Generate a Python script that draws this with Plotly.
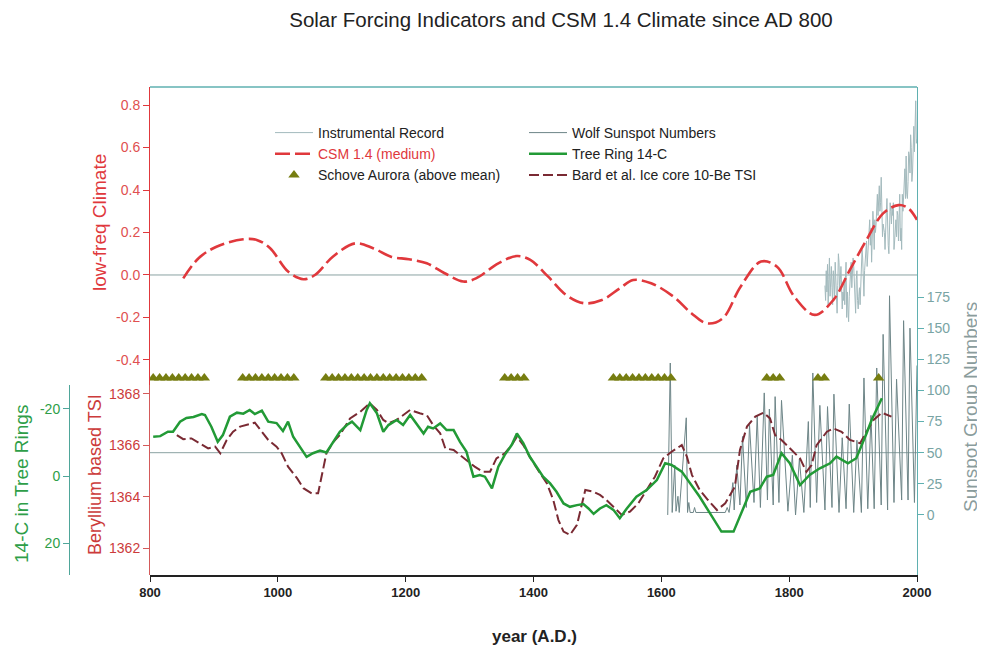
import plotly.graph_objects as go

# ---------------- data ----------------
csm_years = [852, 876, 904, 946, 967, 988, 1016, 1040, 1058, 1086, 1121, 1149, 1177, 1205, 1233,
             1261, 1290, 1310, 1345, 1374, 1395, 1423, 1451, 1479, 1507, 1535, 1556, 1584, 1619,
             1647, 1672, 1696, 1724, 1756, 1781, 1808, 1840, 1869, 1895, 1921, 1947, 1971, 1986, 2000]
csm_vals = [-0.016, 0.079, 0.133, 0.168, 0.165, 0.126, 0.016, -0.020, 0.000, 0.086, 0.149, 0.126,
            0.086, 0.074, 0.055, 0.008, -0.031, -0.016, 0.055, 0.089, 0.071, -0.008, -0.094, -0.133,
            -0.118, -0.063, -0.024, -0.039, -0.102, -0.180, -0.228, -0.204, -0.055, 0.063, 0.039,
            -0.102, -0.188, -0.118, 0.024, 0.165, 0.290, 0.329, 0.315, 0.260]

instr_years = list(range(1856, 2001))
instr_vals = [-0.05, -0.12, 0.02, -0.08, 0.05, -0.15, -0.02, 0.08, -0.10, 0.00,
              0.04, -0.06, -0.14, 0.02, -0.04, -0.10, 0.06, -0.02, -0.12, -0.18,
              -0.05, 0.10, 0.06, -0.08, -0.02, 0.04, -0.06, -0.16, -0.08, -0.12,
              -0.04, -0.14, -0.02, 0.06, -0.20, -0.08, -0.16, -0.22, -0.10, -0.04,
              0.02, 0.06, -0.06, 0.00, 0.08, 0.04, -0.06, -0.12, -0.18, -0.02,
              0.02, -0.12, -0.16, -0.10, -0.06, -0.14, -0.04, 0.02, 0.12, 0.08,
              -0.04, -0.10, 0.02, 0.08, 0.10, 0.16, 0.04, 0.10, 0.12, 0.18,
              0.26, 0.14, 0.22, 0.06, 0.28, 0.30, 0.24, 0.12, 0.26, 0.20,
              0.24, 0.34, 0.38, 0.28, 0.36, 0.42, 0.30, 0.34, 0.46, 0.30,
              0.18, 0.24, 0.22, 0.20, 0.12, 0.28, 0.30, 0.36, 0.16, 0.14,
              0.10, 0.30, 0.34, 0.30, 0.24, 0.32, 0.28, 0.34, 0.12, 0.16,
              0.22, 0.26, 0.18, 0.30, 0.28, 0.16, 0.24, 0.38, 0.16, 0.22,
              0.12, 0.38, 0.30, 0.40, 0.44, 0.50, 0.36, 0.56, 0.38, 0.36,
              0.44, 0.58, 0.56, 0.48, 0.66, 0.60, 0.44, 0.48, 0.56, 0.70,
              0.58, 0.74, 0.82, 0.62, 0.64]

aurora_years = [805, 815, 825, 835, 845, 855, 865, 875, 885,
                945, 955, 965, 975, 985, 995, 1005, 1015, 1025,
                1075, 1085, 1095, 1105, 1115, 1125, 1135, 1145, 1155, 1165, 1175, 1185, 1195, 1205, 1215, 1225,
                1355, 1365, 1375, 1385,
                1525, 1535, 1545, 1555, 1565, 1575, 1585, 1595, 1605, 1615,
                1765, 1775, 1785,
                1845, 1855,
                1940]
aurora_level = -0.485

ss_years = [1610, 1614, 1617, 1621, 1623, 1626, 1628, 1639, 1641, 1643, 1645, 1650, 1652, 1654,
            1700, 1703, 1706, 1712, 1714, 1718, 1723, 1727, 1733, 1738, 1745, 1750, 1755, 1761,
            1766, 1769, 1775, 1778, 1784, 1788, 1798, 1805, 1810, 1816, 1823, 1830, 1833, 1837,
            1843, 1848, 1856, 1860, 1867, 1870, 1878, 1883, 1889, 1894, 1901, 1906, 1913, 1917,
            1923, 1928, 1933, 1937, 1944, 1947, 1954, 1957, 1964, 1968, 1976, 1979, 1986, 1989,
            1996, 2000]
ss_vals = [0, 122, 2, 40, 3, 15, 2, 78, 2, 10, 2, 2, 6, 2,
           2, 6, 2, 26, 4, 40, 8, 63, 6, 72, 10, 80, 6, 98,
           12, 85, 8, 95, 10, 92, 3, 48, 0, 45, 2, 75, 6, 114,
           10, 88, 4, 87, 6, 97, 2, 62, 5, 89, 2, 60, 2, 110,
           5, 80, 5, 118, 8, 145, 4, 176, 10, 109, 12, 156, 12, 150,
           10, 120]
ss_ref = 50

bard_years = [842, 852, 865, 878, 891, 902, 910, 920, 930, 941, 951, 964, 975, 985, 998, 1006, 1016,
              1030, 1040, 1053, 1063, 1070, 1076, 1087, 1097, 1113, 1129, 1144, 1155, 1165, 1173,
              1186, 1196, 1207, 1222, 1233, 1243, 1254, 1262, 1275, 1285, 1298, 1308, 1321, 1332,
              1342, 1355, 1366, 1374, 1384, 1394, 1407, 1421, 1431, 1439, 1447, 1457, 1468, 1476,
              1481, 1494, 1504, 1514, 1525, 1538, 1551, 1564, 1577, 1590, 1603, 1616, 1632, 1640,
              1648, 1660, 1673, 1687, 1700, 1715, 1723, 1734, 1747, 1760, 1770, 1778, 1788, 1801,
              1817, 1827, 1835, 1843, 1859, 1869, 1882, 1895, 1911, 1921, 1932, 1945, 1953, 1960]
bard_vals = [1366.40, 1366.24, 1366.27, 1366.08, 1365.88, 1365.95, 1365.69, 1366.21, 1366.53,
             1366.73, 1366.79, 1366.88, 1366.53, 1366.21, 1365.95, 1365.69, 1365.17, 1364.72,
             1364.33, 1364.13, 1364.13, 1365.04, 1365.69, 1366.14, 1366.40, 1367.05, 1367.31,
             1367.64, 1367.38, 1366.99, 1366.86, 1366.99, 1367.18, 1367.38, 1367.25, 1367.18,
             1366.79, 1366.47, 1365.88, 1365.82, 1365.62, 1365.36, 1365.17, 1364.97, 1364.97,
             1365.49, 1365.69, 1366.01, 1366.34, 1366.01, 1365.56, 1365.04, 1364.52, 1363.87,
             1363.09, 1362.64, 1362.51, 1362.90, 1363.74, 1364.26, 1364.19, 1364.07, 1363.87,
             1363.61, 1363.29, 1363.42, 1363.74, 1364.26, 1364.78, 1365.49, 1365.75, 1366.01,
             1365.56, 1364.84, 1364.26, 1363.87, 1363.48, 1363.74, 1364.39, 1365.82, 1366.73,
             1367.12, 1367.27, 1367.05, 1366.40, 1366.21, 1365.88, 1365.49, 1364.97, 1365.23,
             1366.01, 1366.53, 1366.66, 1366.53, 1366.21, 1366.08, 1366.53, 1366.99, 1367.27,
             1367.18, 1367.12]

c14_years = [805, 816, 828, 836, 847, 857, 868, 881, 886, 896, 906, 914, 925, 936, 946, 956, 964,
             975, 985, 998, 1008, 1016, 1024, 1035, 1045, 1055, 1066, 1076, 1087, 1097, 1108, 1116,
             1129, 1139, 1144, 1155, 1165, 1173, 1186, 1196, 1207, 1217, 1228, 1235, 1243, 1254,
             1264, 1275, 1285, 1295, 1306, 1316, 1324, 1335, 1345, 1355, 1366, 1374, 1384, 1394,
             1405, 1415, 1426, 1436, 1447, 1457, 1468, 1478, 1486, 1494, 1504, 1514, 1525, 1535,
             1546, 1561, 1577, 1593, 1606, 1616, 1632, 1645, 1660, 1676, 1694, 1713, 1723, 1739,
             1754, 1765, 1775, 1788, 1801, 1817, 1832, 1848, 1864, 1874, 1892, 1905, 1921, 1929, 1945]
c14_vals = [-11.7, -11.9, -13.2, -13.2, -16.2, -17.3, -17.6, -18.5, -18.2, -14.7, -10.2, -12.2,
            -17.7, -18.9, -18.6, -19.7, -18.5, -19.5, -16.2, -15.8, -13.4, -16.2, -11.7, -8.7,
            -5.7, -6.8, -7.6, -7.0, -10.2, -13.2, -15.2, -16.2, -13.7, -19.7, -21.7, -18.7,
            -13.2, -15.2, -16.7, -15.2, -18.2, -15.7, -12.7, -14.7, -14.2, -15.7, -13.7, -13.7,
            -10.2, -7.3, 0.2, -0.3, 0.2, 3.7, -2.8, -6.3, -9.3, -12.7, -9.8, -5.8,
            -2.8, 0.2, 2.2, 4.7, 8.2, 9.2, 8.7, 8.4, 9.7, 11.3, 9.7, 8.7, 10.1, 12.6,
            9.7, 6.2, 4.2, 1.2, -3.8, -3.3, -1.3, 2.2, 6.2, 11.1, 16.6, 16.6, 12.1, 4.7,
            3.7, 0.2, -0.3, -6.8, -3.8, 2.7, -0.3, -2.3, -3.8, -5.8, -3.8, -5.3, -12.7, -16.7, -23.2]

x_ticks = [800, 1000, 1200, 1400, 1600, 1800, 2000]
climate_ticks = [-0.4, -0.2, 0.0, 0.2, 0.4, 0.6, 0.8]
climate_labels = ["-0.4", "-0.2", "0.0", "0.2", "0.4", "0.6", "0.8"]
tsi_ticks = [1362, 1364, 1366, 1368]
c14_ticks = [-20, 0, 20]
c14_labels = ["-20", "0", "20"]
ss_ticks = [0, 25, 50, 75, 100, 125, 150, 175]

# ---------------- layout geometry ----------------
# the page body has an 8 px margin, so the figure is 8 px smaller and
# every reference pixel position is shifted by 8 px
OFF = 8
W, H = 985 - OFF, 654 - OFF
ML, MR, MT, MB = 52, 68, 79, 79
PW = W - ML - MR
PH = H - MT - MB


def px_x(px):
    return (px - OFF - ML) / PW


def px_y(py):
    return (H - MB - (py - OFF)) / PH


FONT = "Liberation Sans, Arial, sans-serif"
RED = "#e0383c"
TSI_RED = "#cc3b3b"
GREEN = "#229a36"
TEAL = "#5fb0b0"
SPLIT = px_y(385)

fig = go.Figure()

fig.add_trace(go.Scatter(x=ss_years, y=ss_vals, yaxis="y", mode="lines",
                         line=dict(color="#6d8587", width=1),
                         name="Wolf Sunspot Numbers", legend="legend2", legendrank=1))
fig.add_trace(go.Scatter(x=instr_years, y=instr_vals, yaxis="y2", mode="lines",
                         line=dict(color="#a3babd", width=1),
                         name="Instrumental Record", legend="legend", legendrank=1))
fig.add_trace(go.Scatter(x=csm_years, y=csm_vals, yaxis="y2", mode="lines",
                         line=dict(color=RED, width=2.6, dash="15px,5px", shape="spline", smoothing=1.0),
                         name='<span style="color:#e0383c">CSM 1.4 (medium)</span>',
                         legend="legend", legendrank=2))
fig.add_trace(go.Scatter(x=aurora_years, y=[aurora_level] * len(aurora_years), yaxis="y2",
                         mode="markers",
                         marker=dict(symbol="triangle-up", size=10, color="#767d10",
                                     line=dict(width=0)),
                         name="Schove Aurora (above mean)", legend="legend", legendrank=3))
fig.add_trace(go.Scatter(x=bard_years, y=bard_vals, yaxis="y3", mode="lines",
                         line=dict(color="#7a2a33", width=2, dash="10px,4px"),
                         name="Bard et al. Ice core 10-Be TSI", legend="legend2", legendrank=3))
fig.add_trace(go.Scatter(x=c14_years, y=c14_vals, yaxis="y4", mode="lines",
                         line=dict(color=GREEN, width=2.5),
                         name="Tree Ring 14-C", legend="legend2", legendrank=2))

common = dict(showgrid=False, zeroline=False, ticks="outside", ticklen=6, showline=True, linewidth=1)

fig.update_layout(
    width=W, height=H,
    margin=dict(l=ML, r=MR, t=MT, b=MB, autoexpand=False),
    paper_bgcolor="white", plot_bgcolor="rgba(0,0,0,0)",
    font=dict(family=FONT, size=14, color="#222"),
    title=dict(text="Solar Forcing Indicators and CSM 1.4 Climate since AD 800",
               x=(561 - OFF) / W, xanchor="center", y=1 - 5 / H, yanchor="top",
               font=dict(size=20.5, color="#222", family=FONT)),
    xaxis=dict(domain=[px_x(150), 1], range=[800, 2000], anchor="y", tickvals=x_ticks,
               showgrid=False, zeroline=False, ticks="outside", ticklen=5, tickcolor="#222",
               showline=True, linecolor="#222", linewidth=1.5,
               tickfont=dict(size=13, color="#222", weight="bold")),
    yaxis=dict(domain=[0, 1], range=[-48.2, 343.6], side="right", anchor="x",
               tickvals=ss_ticks, linecolor=TEAL, tickcolor=TEAL,
               tickfont=dict(size=14, color="#79a4a4"), **common),
    yaxis2=dict(domain=[SPLIT, 1], range=[-0.518, 0.885], anchor="x",
                tickvals=climate_ticks, ticktext=climate_labels, linecolor=RED, tickcolor=RED,
                tickfont=dict(size=14, color="#e05050"), **common),
    yaxis3=dict(domain=[0, SPLIT], range=[1360.95, 1368.35], anchor="x",
                tickvals=tsi_ticks, linecolor="#d45a5a", tickcolor="#d45a5a",
                tickfont=dict(size=14, color=TSI_RED), **common),
    yaxis4=dict(domain=[0, SPLIT], range=[29.55, -27.16], anchor="free", position=px_x(69),
                side="left", tickvals=c14_ticks, ticktext=c14_labels,
                linecolor="#4fa69a", tickcolor="#4fa69a",
                tickfont=dict(size=14, color="#2e9e48"), **common),
    legend=dict(x=px_x(270), y=px_y(117), xanchor="left", yanchor="top",
                bgcolor="rgba(0,0,0,0)", itemwidth=38, font=dict(size=14, color="#222")),
    legend2=dict(x=px_x(524), y=px_y(117), xanchor="left", yanchor="top",
                 bgcolor="rgba(0,0,0,0)", itemwidth=38, font=dict(size=14, color="#222")),
    showlegend=True,
)

# reference lines and frame
fig.add_shape(type="line", xref="x domain", x0=0, x1=1, yref="y2", y0=0, y1=0,
              line=dict(color="#8aa2a2", width=1), layer="below")
fig.add_shape(type="line", xref="x domain", x0=0, x1=1, yref="y", y0=ss_ref, y1=ss_ref,
              line=dict(color="#8aa2a2", width=1), layer="below")
fig.add_shape(type="line", xref="x domain", x0=0, x1=1, yref="paper", y0=1, y1=1,
              line=dict(color=TEAL, width=1.5))

# axis titles
ann = dict(xref="paper", yref="paper", showarrow=False, xanchor="center", yanchor="middle")
fig.add_annotation(text="low-freq Climate", x=px_x(99), y=px_y(223), textangle=-90,
                   font=dict(size=19, color=RED), **ann)
fig.add_annotation(text="Beryllium based TSI", x=px_x(95), y=px_y(475), textangle=-90,
                   font=dict(size=18, color=TSI_RED), **ann)
fig.add_annotation(text="14-C in Tree Rings", x=px_x(21), y=px_y(484), textangle=-90,
                   font=dict(size=19, color="#2e9e48"), **ann)
fig.add_annotation(text="Sunspot Group Numbers", x=px_x(970), y=px_y(407), textangle=-90,
                   font=dict(size=19, color="#8a9c9c"), **ann)
fig.add_annotation(text="<b>year (A.D.)</b>", x=px_x(534), y=px_y(636),
                   font=dict(size=17, color="#222"), **ann)

fig.write_html("out.html")
